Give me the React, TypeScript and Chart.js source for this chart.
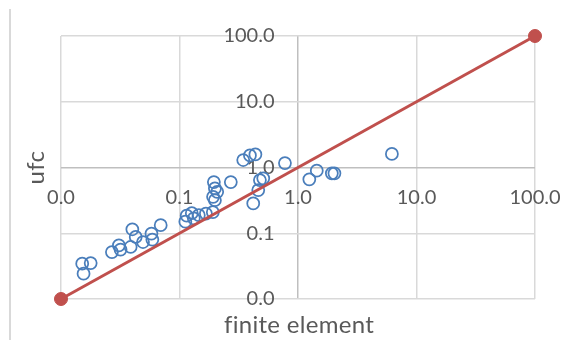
import { useEffect, useRef } from "react";
import { Chart, registerables } from "chart.js";

Chart.register(...registerables);

// Decade ticks shared by both logarithmic axes
const TICKS = [0.01, 0.1, 1, 10, 100];

// Measured pairs: finite element result vs. ufc result
const finiteElement = [
  0.0151, 0.0178, 0.0155, 0.0269, 0.0308, 0.0318, 0.0387, 0.04, 0.0427, 0.0492,
  0.058, 0.059, 0.0694, 0.112, 0.115, 0.127, 0.132, 0.1455, 0.167, 0.191,
  0.195, 0.199, 0.208, 0.192, 0.199, 0.271, 0.345, 0.393, 0.437, 0.776,
  0.419, 0.462, 0.477, 0.509, 1.246, 1.44, 1.93, 2.03, 6.2,
];
const ufc = [
  0.0345, 0.0352, 0.0243, 0.0518, 0.0656, 0.0564, 0.0618, 0.115, 0.0878, 0.0736,
  0.099, 0.08, 0.1325, 0.15, 0.185, 0.202, 0.169, 0.188, 0.199, 0.209,
  0.601, 0.481, 0.427, 0.358, 0.319, 0.601, 1.3, 1.525, 1.58, 1.17,
  0.284, 0.453, 0.644, 0.684, 0.66, 0.894, 0.815, 0.815, 1.607,
];

// 1:1 reference line
const lineX = [0.01, 100];
const lineY = [0.01, 100];

const BLUE = "#4a7ebb";
const RED = "#c0504d";
const GRID = "#d9d9d9";
const AXIS = "#bfbfbf";
const TEXT = "#595959";
const TICK_FONT = "20px Lato, 'Open Sans', sans-serif";
const TITLE_FONT = "24px Lato, 'Open Sans', sans-serif";

const labelsPlugin = {
  id: "crossLabels",
  beforeDatasetsDraw(chart: any) {
    const { ctx } = chart;
    const xs = chart.scales.x;
    const ys = chart.scales.y;
    const x0 = xs.getPixelForValue(1);
    const y0 = ys.getPixelForValue(1);
    ctx.save();
    // outer frame edge on the left
    ctx.strokeStyle = GRID;
    ctx.lineWidth = 2;
    ctx.beginPath();
    ctx.moveTo(10, 9);
    ctx.lineTo(10, chart.height);
    ctx.stroke();

    ctx.fillStyle = TEXT;
    ctx.font = TICK_FONT;
    ctx.textBaseline = "middle";
    ctx.textAlign = "right";
    ys.ticks.forEach((t: any) => {
      ctx.fillText(Number(t.value).toFixed(1), x0 - 23.5, ys.getPixelForValue(t.value));
    });
    ctx.textAlign = "center";
    xs.ticks.forEach((t: any) => {
      ctx.fillText(Number(t.value).toFixed(1), xs.getPixelForValue(t.value), y0 + 30.5);
    });
    // axis titles
    ctx.font = TITLE_FONT;
    ctx.letterSpacing = "0.3px";
    ctx.fillText("finite element", (xs.left + xs.right) / 2 + 1, 325);
    ctx.translate(36, (ys.top + ys.bottom) / 2);
    ctx.rotate(-Math.PI / 2);
    ctx.fillText("ufc", 0, 0);
    ctx.restore();
  },
};

const decadeTicks = (scale: any) => {
  scale.ticks = TICKS.map((v) => ({ value: v }));
};

const gridColor = (c: any) => (c.tick && c.tick.value === 1 ? AXIS : GRID);

export default function App() {
  const ref = useRef<HTMLCanvasElement | null>(null);

  useEffect(() => {
    if (!ref.current) return;
    const chart = new Chart(ref.current, {
      type: "scatter",
      data: {
        datasets: [
          {
            label: "1:1",
            data: lineX.map((x, i) => ({ x, y: lineY[i] })),
            showLine: true,
            borderColor: RED,
            backgroundColor: RED,
            borderWidth: 3,
            pointRadius: 6.5,
            pointBorderWidth: 1,
            pointBackgroundColor: RED,
            clip: false,
            order: 0,
          },
          {
            label: "ufc",
            data: finiteElement.map((x, i) => ({ x, y: ufc[i] })),
            borderColor: BLUE,
            backgroundColor: "rgba(0,0,0,0)",
            pointRadius: 6,
            pointBorderWidth: 1.75,
            clip: false,
            order: 1,
          },
        ],
      },
      options: {
        animation: false,
        responsive: false,
        maintainAspectRatio: false,
        layout: { padding: { left: 61, top: 36, right: 36, bottom: 41 } },
        plugins: { legend: { display: false }, tooltip: { enabled: false } },
        scales: {
          x: {
            type: "logarithmic",
            min: 0.01,
            max: 100,
            afterBuildTicks: decadeTicks,
            ticks: { display: false },
            grid: { color: gridColor, lineWidth: 1.5, drawTicks: false },
            border: { display: false },
          },
          y: {
            type: "logarithmic",
            min: 0.01,
            max: 100,
            afterBuildTicks: decadeTicks,
            ticks: { display: false },
            grid: { color: gridColor, lineWidth: 1.5, drawTicks: false },
            border: { display: false },
          },
        },
      },
      plugins: [labelsPlugin],
    });
    return () => chart.destroy();
  }, []);

  return (
    <canvas
      ref={ref}
      width={571}
      height={340}
      style={{ position: "fixed", left: 0, top: 0, display: "block", background: "#fff" }}
    />
  );
}
